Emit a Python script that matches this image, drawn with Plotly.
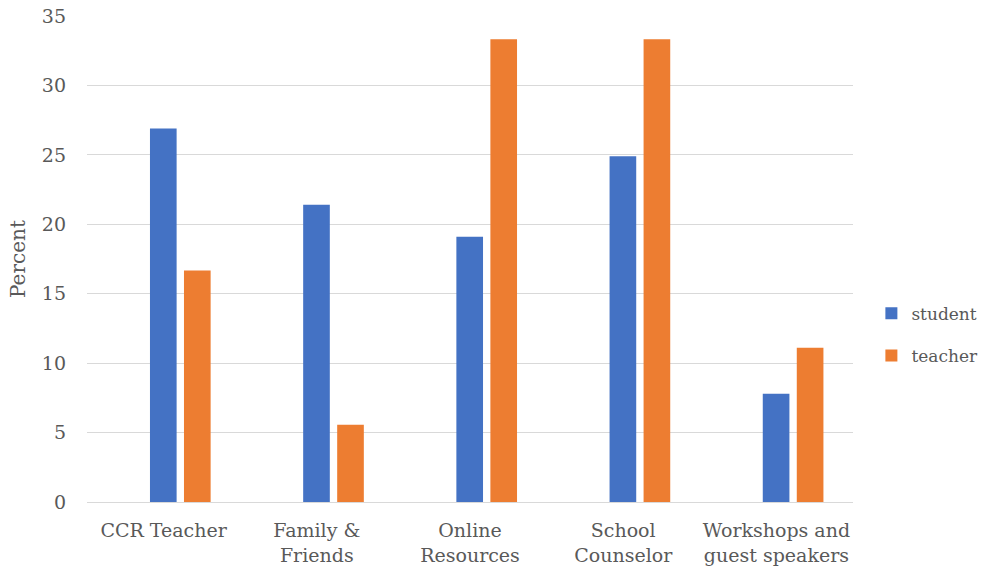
import plotly.graph_objects as go

categories = ["CCR Teacher", "Family &<br>Friends", "Online<br>Resources",
              "School<br>Counselor", "Workshops and<br>guest speakers"]
student = [26.9, 21.4, 19.1, 24.9, 7.8]
teacher = [16.67, 5.56, 33.33, 33.33, 11.11]
y_ticks = [0, 5, 10, 15, 20, 25, 30, 35]

FONT = "DejaVu Serif"
GREY = "#595959"

fig = go.Figure()
fig.add_trace(go.Bar(x=categories, y=student, name="student",
                     marker=dict(color="#4472C4", line=dict(width=0)),
                     width=0.174, offset=-0.089, legendgroup="a"))
fig.add_trace(go.Bar(x=categories, y=teacher, name="teacher",
                     marker=dict(color="#ED7D31", line=dict(width=0)),
                     width=0.174, offset=0.133, legendgroup="b"))

fig.update_layout(
    width=984, height=571,
    margin=dict(l=87, r=131, t=16, b=69, autoexpand=False),
    paper_bgcolor="white", plot_bgcolor="white",
    font=dict(family=FONT, size=19, color=GREY),
    barmode="overlay",
    showlegend=True,
    legend=dict(x=1.024, xanchor="left", y=0.344, yanchor="middle",
                xref="paper", font=dict(family=FONT, size=17, color=GREY),
                tracegroupgap=17, itemwidth=30),
    xaxis=dict(type="category", showgrid=False, showline=False,
               ticks="", ticklabelstandoff=15,
               tickfont=dict(family=FONT, size=19, color=GREY),
               range=[-0.5, 4.5], automargin=False),
    yaxis=dict(range=[0, 35], tickvals=y_ticks, showgrid=True,
               gridcolor="#D9D9D9", gridwidth=1.3, zeroline=True,
               zerolinecolor="#D9D9D9", zerolinewidth=1.3,
               showline=False, ticks="", ticklabelstandoff=20,
               automargin=False,
               tickfont=dict(family=FONT, size=19, color=GREY),
               title=dict(text="Percent", standoff=10,
                          font=dict(family=FONT, size=20, color=GREY))),
)

fig.write_html("out.html")
